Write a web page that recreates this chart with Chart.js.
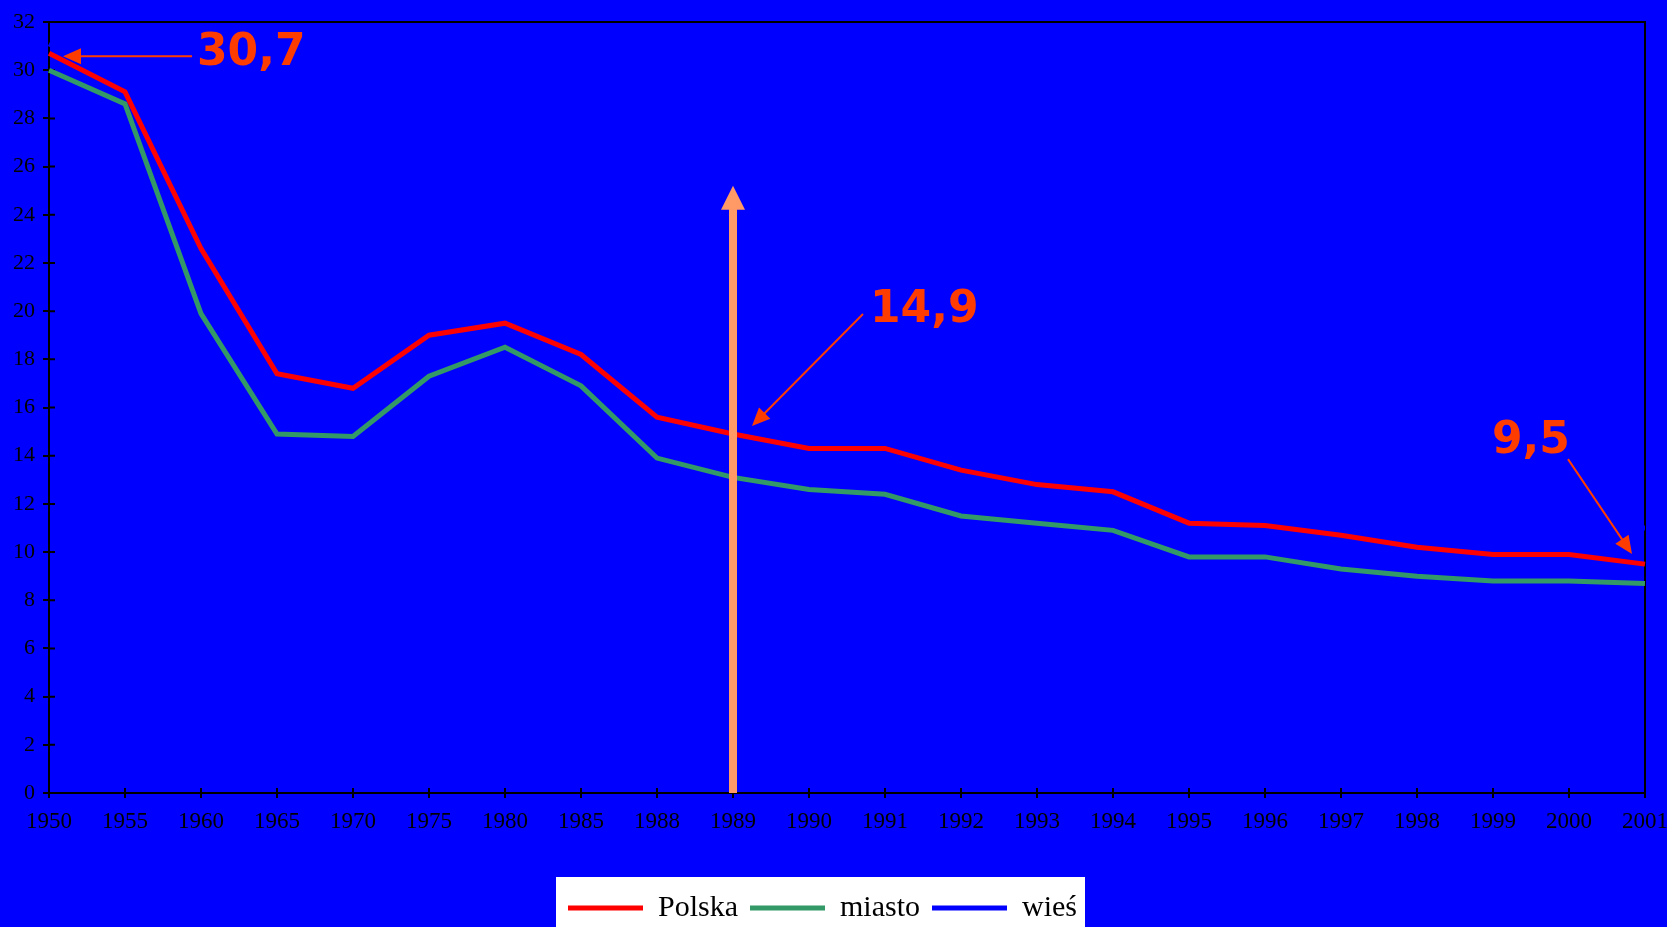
<!DOCTYPE html>
<html>
<head>
<meta charset="utf-8">
<script src="https://cdn.jsdelivr.net/npm/chart.js@4.4.0/dist/chart.umd.min.js"></script>
<style>
  html, body { margin: 0; padding: 0; background: #0000FF; overflow: hidden; }
  #wrap { width: 1667px; height: 927px; }
</style>
</head>
<body>
<div id="wrap"><canvas id="wykres" width="1667" height="927"></canvas></div>
<script>
// Lata na osi X
const lata = ['1950', '1955', '1960', '1965', '1970', '1975', '1980', '1985', '1988', '1989', '1990',
              '1991', '1992', '1993', '1994', '1995', '1996', '1997', '1998', '1999', '2000', '2001'];

// Serie danych
const polska = [30.7, 29.1, 22.6, 17.4, 16.8, 19.0, 19.5, 18.2, 15.6, 14.9, 14.3,
                14.3, 13.4, 12.8, 12.5, 11.2, 11.1, 10.7, 10.2, 9.9, 9.9, 9.5];
const miasto = [30.0, 28.6, 19.9, 14.9, 14.8, 17.3, 18.5, 16.9, 13.9, 13.1, 12.6,
                12.4, 11.5, 11.2, 10.9, 9.8, 9.8, 9.3, 9.0, 8.8, 8.8, 8.7];
// wieś - linia w kolorze tła, wartości szacowane
const wies = [31.1, 29.5, 25.3, 20.0, 19.1, 20.6, 20.6, 19.6, 17.4, 16.6, 16.0,
              16.1, 15.4, 14.5, 14.3, 12.9, 12.7, 12.3, 11.6, 11.2, 11.1, 11.0];

// Oś Y
const osYmin = 0;
const osYmax = 32;
const osYkrok = 2;

// Adnotacje: etykiety wartości (Polska)
const etykiety = ['30,7', '14,9', '9,5'];
const etykietyRok = ['1950', '1989', '2001'];
// Duża strzałka przy roku 1989
const strzalkaRok = '1989';
const strzalkaDo = 25.2;

const TLO = '#0000FF';
const POMARANCZ = '#FF3C00';

// Rysowanie strzałki
function strzalka(ctx, x1, y1, x2, y2, kolor, grubosc, grot, polSzer) {
    const kat = Math.atan2(y2 - y1, x2 - x1);
    const c = Math.cos(kat), s = Math.sin(kat);
    ctx.save();
    ctx.strokeStyle = kolor;
    ctx.fillStyle = kolor;
    ctx.lineWidth = grubosc;
    ctx.beginPath();
    ctx.moveTo(x1, y1);
    ctx.lineTo(x2 - c * grot * 0.9, y2 - s * grot * 0.9);
    ctx.stroke();
    ctx.beginPath();
    ctx.moveTo(x2, y2);
    ctx.lineTo(x2 - grot * c + polSzer * s, y2 - grot * s - polSzer * c);
    ctx.lineTo(x2 - grot * c - polSzer * s, y2 - grot * s + polSzer * c);
    ctx.closePath();
    ctx.fill();
    ctx.restore();
}

// Tło, ramka legendy
const tloPlugin = {
    id: 'tlo',
    beforeDraw(chart) {
        const ctx = chart.ctx;
        ctx.save();
        ctx.fillStyle = TLO;
        ctx.fillRect(0, 0, chart.width, chart.height);
        const hb = chart.legend.legendHitBoxes;
        if (hb && hb.length) {
            const l = hb[0].left - 12;
            const r = hb[hb.length - 1].left + hb[hb.length - 1].width + 8;
            ctx.fillStyle = '#FFFFFF';
            ctx.fillRect(l, hb[0].top - 16, r - l, chart.height);
        }
        ctx.restore();
    },
    beforeDatasetsDraw(chart) {
        // ramka obszaru wykresu + kreski podziałki do środka
        const ctx = chart.ctx;
        const a = chart.chartArea;
        const sx = chart.scales.x, sy = chart.scales.y;
        ctx.save();
        ctx.strokeStyle = '#000';
        ctx.lineWidth = 2;
        ctx.strokeRect(a.left, a.top, a.right - a.left, a.bottom - a.top);
        ctx.beginPath();
        sy.ticks.forEach((t, i) => {
            const y = sy.getPixelForTick(i);
            ctx.moveTo(a.left, y);
            ctx.lineTo(a.left + 6, y);
        });
        sx.ticks.forEach((t, i) => {
            const x = sx.getPixelForTick(i);
            ctx.moveTo(x, a.bottom);
            ctx.lineTo(x, a.bottom - 5);
        });
        ctx.stroke();
        ctx.restore();
    },
    afterDatasetsDraw(chart) {
        // duża pionowa strzałka
        const sx = chart.scales.x, sy = chart.scales.y;
        const x = sx.getPixelForValue(lata.indexOf(strzalkaRok));
        strzalka(chart.ctx, x, sy.getPixelForValue(0), x, sy.getPixelForValue(strzalkaDo),
                 '#FF9966', 8, 24, 12);
    },
    afterDraw(chart) {
        const ctx = chart.ctx;
        const sx = chart.scales.x, sy = chart.scales.y;
        // przesunięcia tekstu i strzałek względem punktu
        const uklad = [
            { tx: 148, ty: 12, od: [143, 3], do: [14, 3] },
            { tx: 137, ty: -112, od: [130, -120], do: [19, -8] },
            { tx: -153, ty: -111, od: [-77, -105], do: [-13, -10] }
        ];
        etykiety.forEach((tekst, i) => {
            const idx = lata.indexOf(etykietyRok[i]);
            const px = sx.getPixelForValue(idx);
            const py = sy.getPixelForValue(polska[idx]);
            const u = uklad[i];
            ctx.save();
            ctx.font = 'bold 44px "DejaVu Sans"';
            ctx.fillStyle = POMARANCZ;
            ctx.textAlign = 'left';
            ctx.textBaseline = 'alphabetic';
            ctx.fillText(tekst, px + u.tx, py + u.ty);
            ctx.restore();
            strzalka(ctx, px + u.od[0], py + u.od[1], px + u.do[0], py + u.do[1], POMARANCZ, 2, 18, 8);
        });
    }
};

const ctx = document.getElementById('wykres').getContext('2d');
new Chart(ctx, {
    type: 'line',
    data: {
        labels: lata,
        datasets: [
            { label: 'Polska', data: polska, borderColor: '#FF0000', backgroundColor: '#FF0000', borderWidth: 5 },
            { label: 'miasto', data: miasto, borderColor: '#339966', backgroundColor: '#339966', borderWidth: 5 },
            { label: 'wieś', data: wies, borderColor: '#0000FF', backgroundColor: '#0000FF', borderWidth: 5 }
        ]
    },
    options: {
        responsive: false,
        animation: false,
        devicePixelRatio: 1,
        layout: { padding: { top: 22, right: 22, left: 0, bottom: -6 } },
        elements: {
            line: { borderWidth: 5, tension: 0, fill: false, borderJoinStyle: 'miter' },
            point: { radius: 0, hoverRadius: 0 }
        },
        scales: {
            x: {
                offset: false,
                grid: { display: true, drawOnChartArea: false, drawTicks: true, tickLength: 5, color: '#000', lineWidth: 2 },
                border: { display: true, color: '#000', width: 2 },
                ticks: {
                    autoSkip: false, maxRotation: 0, minRotation: 0, padding: 10,
                    color: '#000', font: { family: '"Liberation Serif"', size: 23 }
                },
                afterFit(scale) { scale.height = 88; scale.paddingLeft = 0; scale.paddingRight = 0; }
            },
            y: {
                min: osYmin, max: osYmax,
                grid: { display: true, drawOnChartArea: false, drawTicks: true, tickLength: 6, color: '#000', lineWidth: 2 },
                border: { display: true, color: '#000', width: 2 },
                ticks: {
                    stepSize: osYkrok, padding: 8,
                    color: '#000', font: { family: '"Liberation Serif"', size: 22 }
                },
                afterFit(scale) { scale.width = 49; scale.paddingTop = 0; scale.paddingBottom = 0; }
            }
        },
        plugins: {
            legend: {
                position: 'bottom',
                labels: {
                    usePointStyle: true,
                    pointStyle: 'line',
                    pointStyleWidth: 75,
                    boxHeight: 5,
                    padding: 12,
                    color: '#000',
                    font: { family: '"Liberation Serif"', size: 30 }
                }
            },
            tooltip: { enabled: false }
        }
    },
    plugins: [tloPlugin]
});
</script>
</body>
</html>
